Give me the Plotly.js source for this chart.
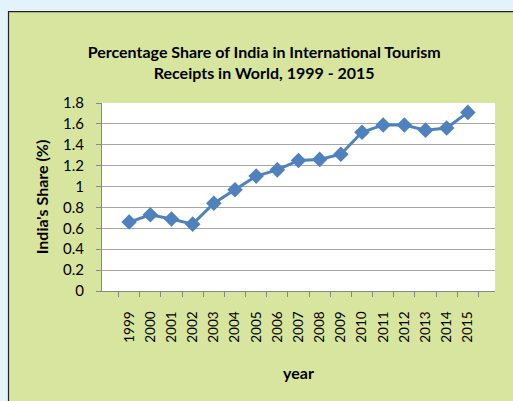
<!DOCTYPE html>
<html><head><meta charset="utf-8">
<script src="https://cdn.plot.ly/plotly-3.0.1.min.js"></script>
<style>html,body{margin:0;padding:0;background:#E4F3FB;}</style>
</head><body>
<div id="chart" style="width:513px;height:401px;"></div>
<script>
const years = ["1999","2000","2001","2002","2003","2004","2005","2006","2007","2008","2009","2010","2011","2012","2013","2014","2015"];
const share = [0.66,0.73,0.69,0.64,0.84,0.97,1.10,1.16,1.25,1.26,1.31,1.52,1.59,1.59,1.54,1.56,1.71];

const font = "Lato, 'Open Sans', sans-serif";
const W = 393, H = 188, L = 102, T = 103;
const px = x => (x - L) / W;
const py = y => (T + H - y) / H;
Plotly.newPlot('chart', [{
  x: years, y: share, type: 'scatter', mode: 'lines+markers',
  line: {color: '#4F81BD', width: 3},
  marker: {symbol: 'diamond', size: 12, color: '#4F81BD'},
  hoverinfo: 'skip'
}], {
  width: 513, height: 401,
  margin: {l: L, r: 513 - L - W, t: T, b: 401 - T - H, pad: 0},
  paper_bgcolor: '#D8E59E',
  plot_bgcolor: '#FFFFFF',
  showlegend: false,
  font: {family: font, color: '#000', size: 13},
  title: {text: '<b>Percentage Share of India in International Tourism<br>Receipts in World, 1999 - 2015</b>',
          font: {family: font, size: 16, color: '#000'}, x: 0.515, xanchor: 'center', y: 0.855, yanchor: 'middle'},
  xaxis: {
    type: 'category', tickangle: -90, tickson: 'boundaries', ticks: 'outside', ticklen: 5,
    tickcolor: '#888', showline: true, linecolor: '#888', linewidth: 1, showgrid: false,
    ticklabelstandoff: 14,
    tickfont: {family: font, size: 13.5, color: '#000'},
    title: {text: '<b>year</b>', font: {family: font, size: 16, color: '#000'}, standoff: 26}
  },
  yaxis: {
    range: [0, 1.8], dtick: 0.2, ticks: 'outside', ticklen: 5, tickcolor: '#888',
    showline: true, linecolor: '#888', linewidth: 1,
    showgrid: true, gridcolor: '#A6A6A6', gridwidth: 1, zeroline: false,
    ticklabelstandoff: 9,
    tickfont: {family: font, size: 15, color: '#000'},
    title: {text: "<b>India's Share (%)</b>", font: {family: font, size: 16, color: '#000'}, standoff: 10}
  },
  shapes: [
    {type: 'rect', xref: 'paper', yref: 'paper', layer: 'above',
     x0: px(-5), x1: px(8.5), y0: py(420), y1: py(-5), fillcolor: '#E4F3FB', line: {width: 0}},
    {type: 'rect', xref: 'paper', yref: 'paper', layer: 'above',
     x0: px(-5), x1: px(520), y0: py(11.7), y1: py(-5), fillcolor: '#E4F3FB', line: {width: 0}},
    {type: 'rect', xref: 'paper', yref: 'paper', layer: 'above',
     x0: px(8.5), x1: px(530), y0: py(420), y1: py(11.7), fillcolor: 'rgba(0,0,0,0)', line: {color: '#222', width: 1.2}}
  ]
}, {staticPlot: true});
</script>
</body></html>
